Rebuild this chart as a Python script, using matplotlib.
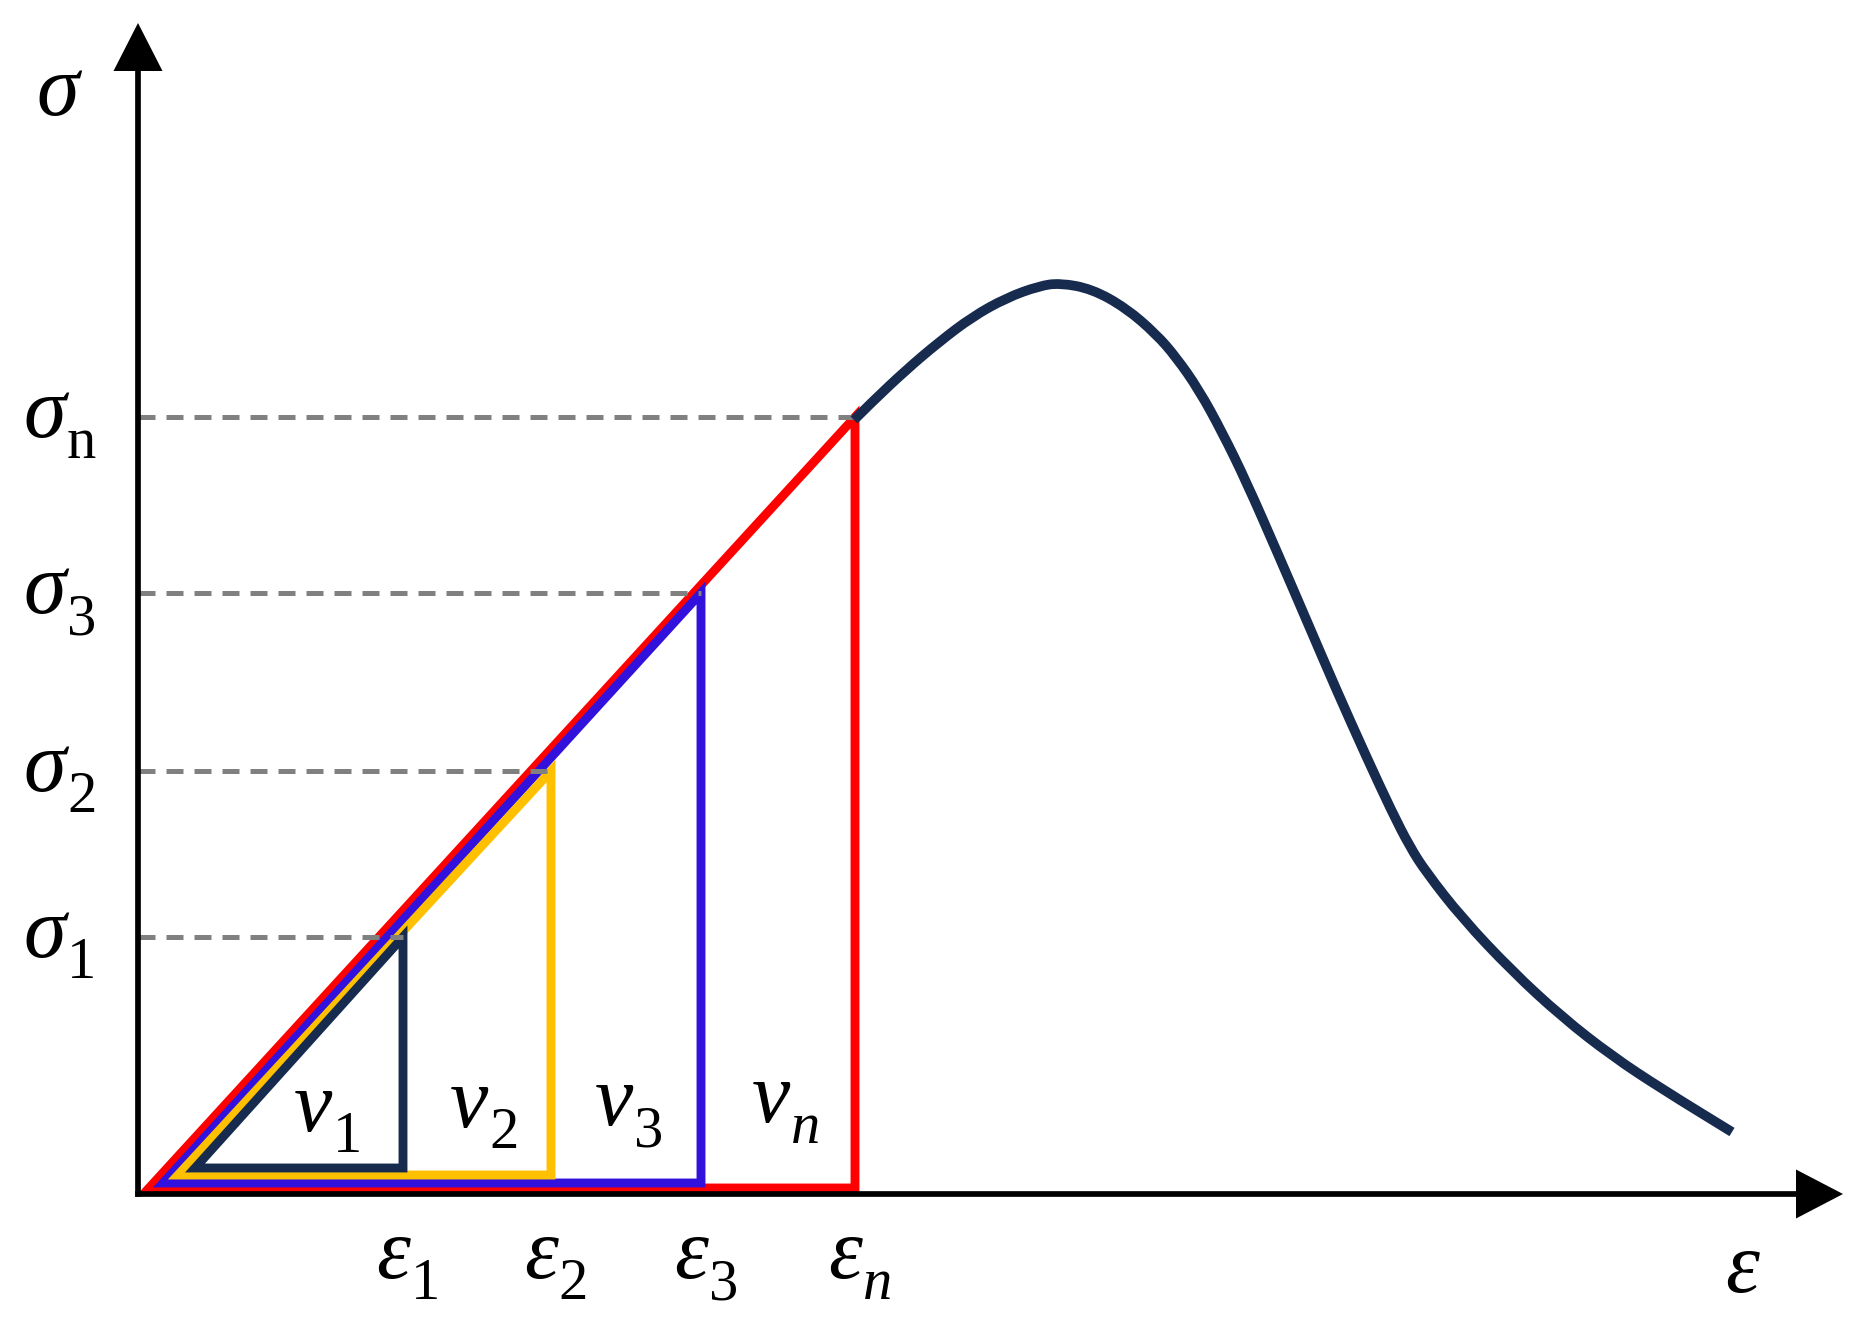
import matplotlib
matplotlib.use('Agg')
import matplotlib.pyplot as plt
from matplotlib.patches import Polygon, PathPatch
from matplotlib.path import Path

# strain / stress levels of the loading steps (axes units)
eps_pos = [2.65, 4.13, 5.63, 7.17]
sig_pos = [2.57, 4.23, 6.01, 7.77]
eps_subs = ['1', '2', '3', 'n']
sig_subs = ['1', '2', '3', 'n']

# triangles v1..vn : apex x, base height, colour
tri_start = [0.57, 0.40, 0.25, 0.11]
tri_base = [0.26, 0.19, 0.11, 0.06]
tri_colors = ['#172b4f', '#ffc000', '#3311dd', '#ff0000']
vol_subs = ['1', '2', '3', 'n']

# stress-strain curve beyond the linear part
curve_x = [7.16, 7.34, 7.68, 8.01, 8.34, 8.68, 9.01, 9.22, 9.54, 9.88, 10.18, 10.38,
           10.61, 10.84, 11.08, 11.40, 11.71, 11.98, 12.28, 12.54, 12.72, 12.88, 13.24,
           13.74, 14.24, 14.74, 15.24, 15.94]
curve_y = [7.74, 7.92, 8.24, 8.52, 8.77, 8.96, 9.08, 9.11, 9.05, 8.86, 8.60, 8.37,
           8.04, 7.62, 7.13, 6.40, 5.68, 5.05, 4.38, 3.82, 3.47, 3.22, 2.76,
           2.23, 1.77, 1.38, 1.05, 0.62]

FONT = 'Liberation Serif'


def put_label(ax, x, y, main, sub, sub_italic, size, dx=1.):
	# italic symbol with a subscript hanging off its lower right corner
	t = ax.text(x, y, main, fontsize=size, family=FONT, style='italic', ha='left', va='baseline')
	if sub:
		ax.annotate(sub, xy=(1, 0), xycoords=t, xytext=(dx, -1.5), textcoords='offset points',
		            fontsize=size * 0.68, family=FONT, style='italic' if sub_italic else 'normal',
		            ha='left', va='baseline')


def smooth_path(xs, ys):
	# quadratic bezier through the midpoints of the read points
	verts = [(xs[0], ys[0])]
	codes = [Path.MOVETO]
	for i in range(1, len(xs) - 1):
		verts.append((xs[i], ys[i]))
		verts.append(((xs[i] + xs[i + 1]) / 2., (ys[i] + ys[i + 1]) / 2.))
		codes += [Path.CURVE3, Path.CURVE3]
	verts.append((xs[-1], ys[-1]))
	codes.append(Path.LINETO)
	return Path(verts, codes)


def plot_energy_sketch():
	# set-up
	plotfontsize = 62
	fig = plt.figure(figsize=(18.68, 13.26), dpi=100)
	ax = fig.add_axes([0, 0, 1, 1])
	ax.set_xlim(-1.38, 17.30)
	ax.set_ylim(-1.32, 11.94)
	ax.axis('off')

	# axes with arrow heads
	ax.arrow(0, -0.028, 0, 11.738, width=0.057, head_width=0.49, head_length=0.48,
	         length_includes_head=True, fc='k', ec='none', zorder=10)
	ax.arrow(-0.028, 0, 17.078, 0, width=0.057, head_width=0.49, head_length=0.47,
	         length_includes_head=True, fc='k', ec='none', zorder=10)

	# triangles, biggest first
	vol_left = [1.56, 3.12, 4.57, 6.14]
	vol_base = [0.63, 0.67, 0.69, 0.72]
	for i in [3, 2, 1, 0]:
		pts = [[tri_start[i], tri_base[i]], [eps_pos[i], sig_pos[i]], [eps_pos[i], tri_base[i]]]
		ax.add_patch(Polygon(pts, closed=True, fill=False, edgecolor=tri_colors[i],
		                     linewidth=6.4, joinstyle='miter', zorder=2 + (3 - i)))
		put_label(ax, vol_left[i], vol_base[i], 'v', vol_subs[i], vol_subs[i] == 'n', plotfontsize, dx=0.5)

	# dashed guide lines and tick names
	for i in range(len(sig_pos)):
		ax.plot([0, eps_pos[i]], [sig_pos[i], sig_pos[i]], color='#808080', linewidth=3.6,
		        dashes=(3.4, 2.2), zorder=6)
		put_label(ax, -1.15, sig_pos[i] - 0.20, '\u03c3', sig_subs[i], False, plotfontsize)
		put_label(ax, eps_pos[i] - 0.27, -0.84, '\u03b5', eps_subs[i], eps_subs[i] == 'n', plotfontsize, dx=0.5)

	# curve
	ax.add_patch(PathPatch(smooth_path(curve_x, curve_y), fill=False, edgecolor='#172b4f',
	                       linewidth=7.0, capstyle='butt', joinstyle='round', zorder=7))

	# axis names
	put_label(ax, -1.02, 10.79, '\u03c3', '', False, plotfontsize)
	put_label(ax, 15.87, -0.98, '\u03b5', '', False, plotfontsize)

	plt.savefig('out.png', dpi=100, facecolor='white')


if __name__ == "__main__":
	plot_energy_sketch()
